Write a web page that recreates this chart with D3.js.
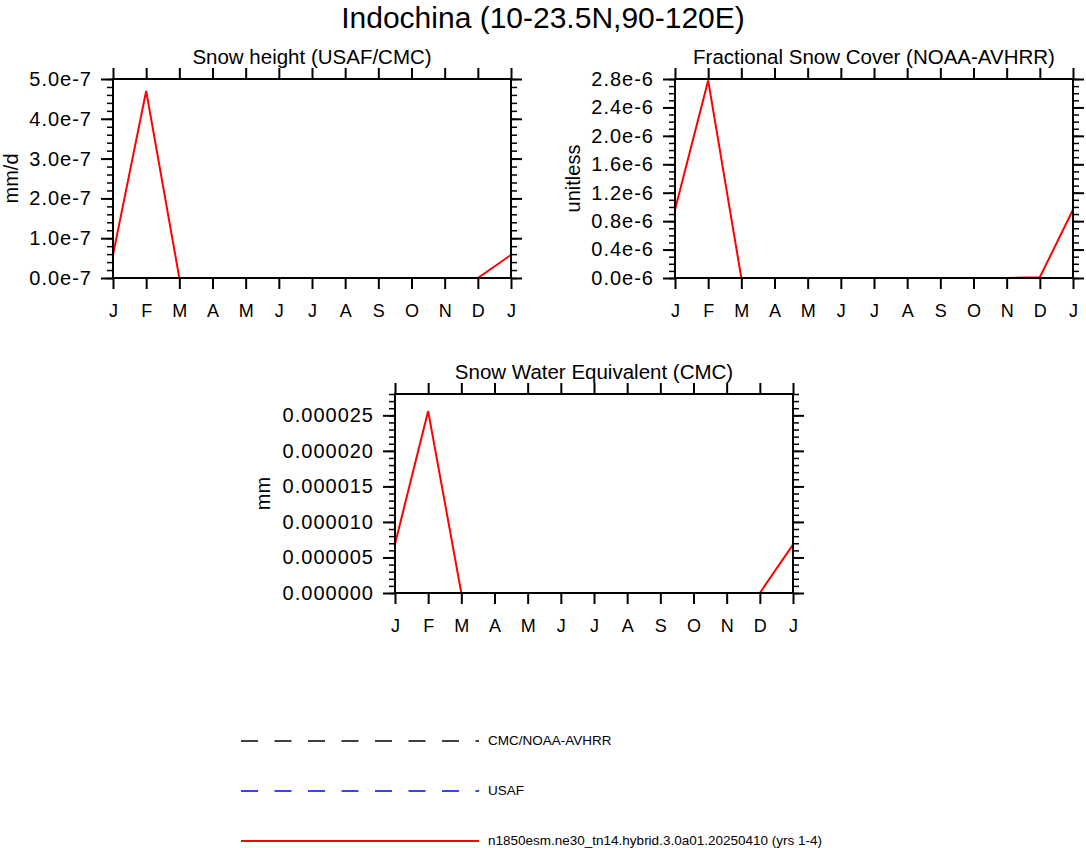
<!DOCTYPE html>
<html lang="en">
  <head>
    <meta charset="UTF-8" />
    <title>Indochina snow</title>
    <script src="https://d3js.org/d3.v7.min.js"></script>
    <style>
      body { margin: 0; background: #fff; }
      svg text { font-family: "Liberation Sans", Arial, Helvetica, sans-serif; fill: #000; }
    </style>
  </head>
  <body>
    <div class="chart"></div>
  </body>

  <script>
    // month labels (13 points, Jan repeated at the end)
    var months = ["J", "F", "M", "A", "M", "J", "J", "A", "S", "O", "N", "D", "J"];

    // Snow height (USAF/CMC), mm/d
    var heightModel = [0.58e-7, 4.7e-7, 0, 0, 0, 0, 0, 0, 0, 0, 0, 0, 0.58e-7];
    var heightCMC = [0, 0, 0, 0, 0, 0, 0, 0, 0, 0, 0, 0, 0];
    var heightUSAF = [0, 0, 0, 0, 0, 0, 0, 0, 0, 0, 0, 0, 0];
    var heightTicks = [0, 1e-7, 2e-7, 3e-7, 4e-7, 5e-7];

    // Fractional snow cover (NOAA-AVHRR), unitless
    var coverModel = [0.96e-6, 2.78e-6, 0, 0, 0, 0, 0, 0, 0, 0, 0, 0.01e-6, 0.96e-6];
    var coverNOAA = [0, 0, 0, 0, 0, 0, 0, 0, 0, 0, 0, 0, 0];
    var coverTicks = [0, 0.4e-6, 0.8e-6, 1.2e-6, 1.6e-6, 2.0e-6, 2.4e-6, 2.8e-6];

    // Snow water equivalent (CMC), mm
    var sweModel = [6.9e-6, 25.6e-6, 0, 0, 0, 0, 0, 0, 0, 0, 0, 0, 6.8e-6];
    var sweCMC = [0, 0, 0, 0, 0, 0, 0, 0, 0, 0, 0, 0, 0];
    var sweTicks = [0, 5e-6, 10e-6, 15e-6, 20e-6, 25e-6];

    var legendNames = ["CMC/NOAA-AVHRR", "USAF", "n1850esm.ne30_tn14.hybrid.3.0a01.20250410 (yrs 1-4)"];

    var W = 1086, H = 848;
    var svg = d3.select(".chart").append("svg").attr("width", W).attr("height", H);

    svg.append("text")
      .attr("x", 543).attr("y", 28)
      .attr("text-anchor", "middle")
      .style("font-size", "30px")
      .text("Indochina (10-23.5N,90-120E)");

    var panels = [
      {
        left: 113, top: 79, title: "Snow height (USAF/CMC)", ylabel: "mm/d",
        ymax: 5e-7, ticks: heightTicks, minor: 0.2e-7,
        fmt: function (v) { return (v / 1e-7).toFixed(1) + "e-7"; },
        obs: [{ values: heightCMC, color: "#000" }, { values: heightUSAF, color: "#0000ff" }],
        model: heightModel, ylabelX: 18
      },
      {
        left: 675, top: 79, title: "Fractional Snow Cover (NOAA-AVHRR)", ylabel: "unitless",
        ymax: 2.8e-6, ticks: coverTicks, minor: 0.1e-6,
        fmt: function (v) { return (v / 1e-6).toFixed(1) + "e-6"; },
        obs: [{ values: coverNOAA, color: "#000" }],
        model: coverModel, ylabelX: 580
      },
      {
        left: 395, top: 394, title: "Snow Water Equivalent (CMC)", ylabel: "mm",
        ymax: 28e-6, ticks: sweTicks, minor: 1e-6,
        fmt: function (v) { return v.toFixed(6); },
        obs: [{ values: sweCMC, color: "#000" }],
        model: sweModel, ylabelX: 270
      }
    ];

    var pw = 398, ph = 199;

    panels.forEach(function (p) {
      var g = svg.append("g").attr("transform", "translate(" + p.left + "," + p.top + ")");

      var x = d3.scaleLinear().domain([0, 12]).range([0, pw]);
      var y = d3.scaleLinear().domain([0, p.ymax]).range([ph, 0]);

      var nMinor = Math.round(p.ymax / p.minor);
      var minorVals = d3.range(0, nMinor + 1).map(function (i) { return i * p.minor; });

      // minor y ticks, left + right
      g.append("g").attr("class", "minor")
        .call(d3.axisLeft(y).tickValues(minorVals).tickSize(6).tickSizeOuter(0).tickFormat(""));
      g.append("g").attr("class", "minor").attr("transform", "translate(" + pw + ",0)")
        .call(d3.axisRight(y).tickValues(minorVals).tickSize(6).tickSizeOuter(0).tickFormat(""));

      // major y ticks
      g.append("g").attr("class", "major ylab")
        .call(d3.axisLeft(y).tickValues(p.ticks).tickSize(12).tickSizeOuter(0).tickPadding(9).tickFormat(p.fmt));
      g.append("g").attr("class", "major").attr("transform", "translate(" + pw + ",0)")
        .call(d3.axisRight(y).tickValues(p.ticks).tickSize(11).tickSizeOuter(0).tickFormat(""));

      // x ticks, bottom + top
      g.append("g").attr("class", "major xlab").attr("transform", "translate(0," + ph + ")")
        .call(d3.axisBottom(x).tickValues(d3.range(13)).tickSize(11).tickSizeOuter(0).tickPadding(15)
          .tickFormat(function (i) { return months[i]; }));
      g.append("g").attr("class", "major")
        .call(d3.axisTop(x).tickValues(d3.range(13)).tickSize(11).tickSizeOuter(0).tickFormat(""));

      g.selectAll(".domain").remove();
      g.selectAll(".major line").attr("stroke", "#000").attr("stroke-width", 2);
      g.selectAll(".minor line").attr("stroke", "#000").attr("stroke-width", 1.5);
      g.selectAll(".ylab .tick text").style("font-size", "20px").style("letter-spacing", "1px").attr("fill", "#000");
      g.selectAll(".xlab .tick text").style("font-size", "18px").attr("fill", "#000");

      var line = d3.line()
        .x(function (d, i) { return x(i); })
        .y(function (d) { return y(d); });

      p.obs.forEach(function (o) {
        g.append("path").datum(o.values)
          .attr("fill", "none").attr("stroke", o.color).attr("stroke-width", 1.2)
          .attr("stroke-dasharray", "12,8")
          .attr("d", line);
      });

      g.append("path").datum(p.model)
        .attr("fill", "none").attr("stroke", "#ff0000").attr("stroke-width", 2)
        .attr("d", line);

      // frame
      g.append("rect").attr("width", pw).attr("height", ph)
        .attr("fill", "none").attr("stroke", "#000").attr("stroke-width", 2);

      g.append("text")
        .attr("x", pw / 2).attr("y", -15)
        .attr("text-anchor", "middle")
        .style("font-size", "20.5px")
        .text(p.title);

      svg.append("text")
        .attr("transform", "translate(" + p.ylabelX + "," + (p.top + ph / 2) + ") rotate(-90)")
        .attr("text-anchor", "middle")
        .style("font-size", "20px")
        .text(p.ylabel);
    });

    // legend
    var legendRows = [
      { y: 741, color: "#000", dash: "17,16.5" },
      { y: 791, color: "#0000ff", dash: "17,16.5" },
      { y: 841, color: "#ff0000", dash: null }
    ];
    legendRows.forEach(function (r, i) {
      var l = svg.append("line")
        .attr("x1", 241).attr("x2", 479)
        .attr("y1", r.y).attr("y2", r.y)
        .attr("stroke", r.color).attr("stroke-width", r.dash ? 1.5 : 2);
      if (r.dash) l.attr("stroke-dasharray", r.dash);
      svg.append("text")
        .attr("x", 488).attr("y", r.y + 4)
        .style("font-size", "13.5px")
        .text(legendNames[i]);
    });
  </script>
</html>
